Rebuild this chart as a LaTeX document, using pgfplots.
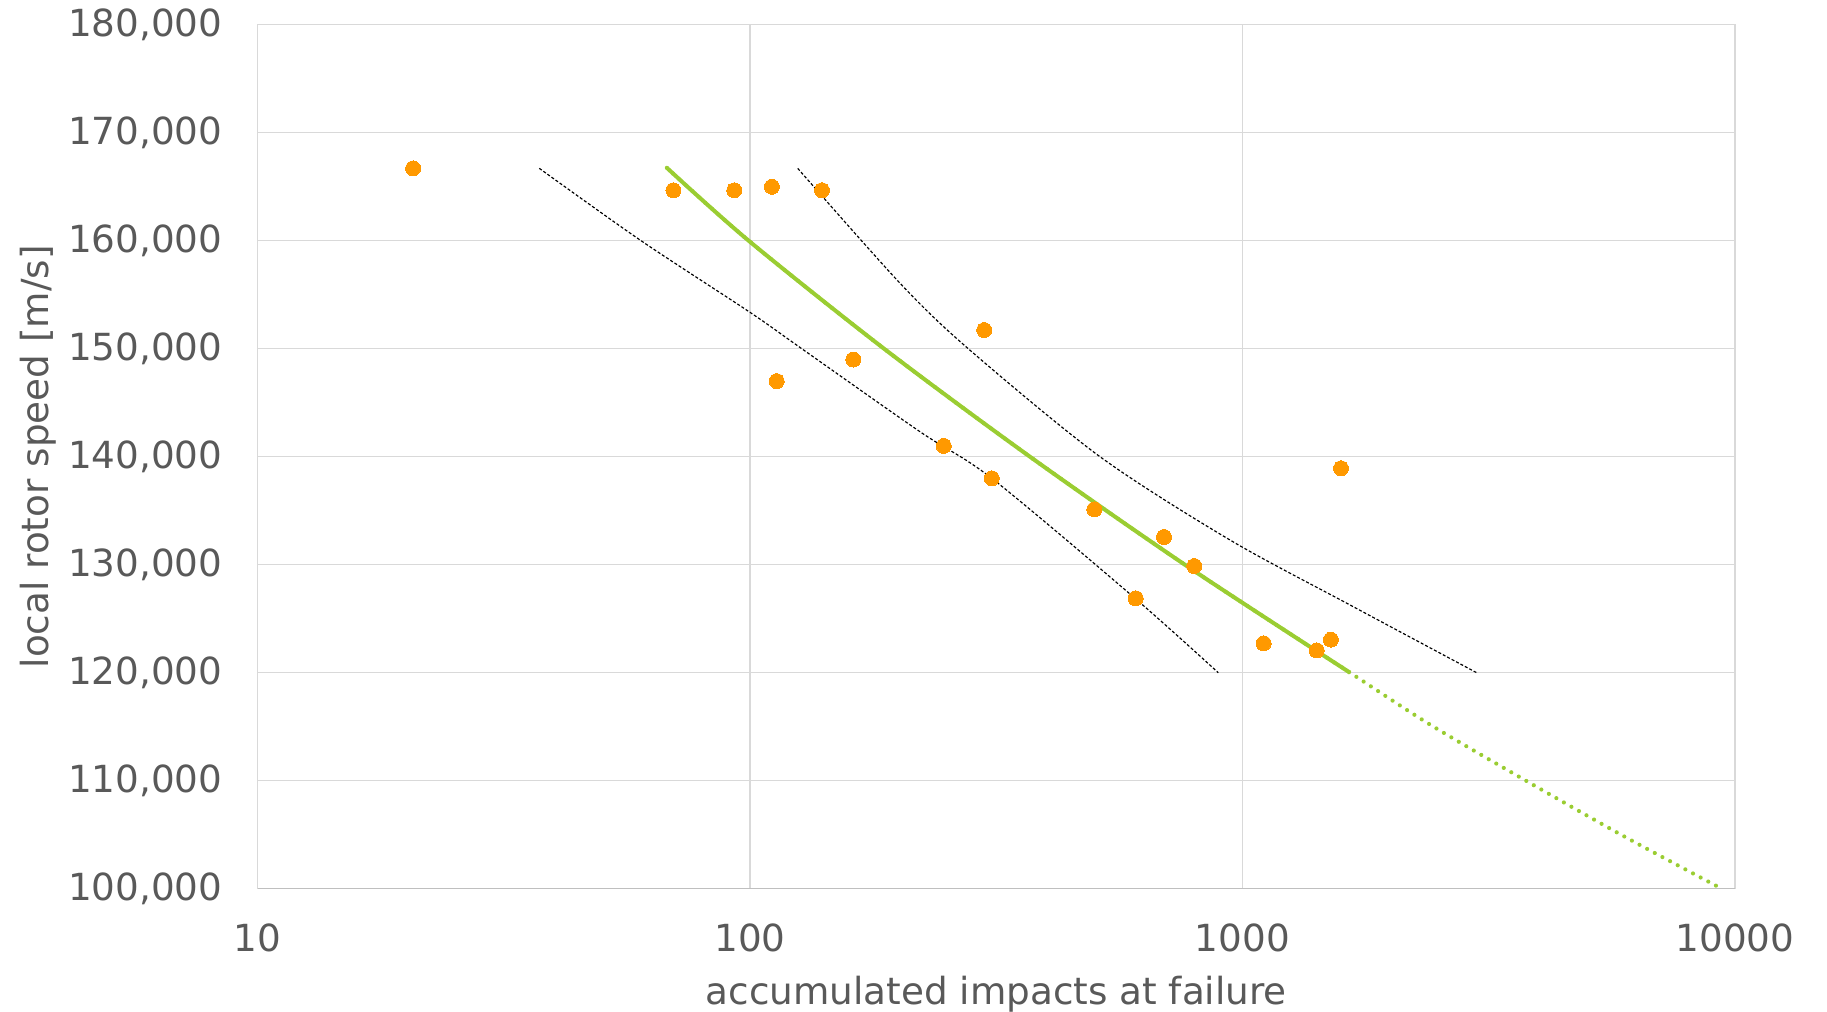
\documentclass[border=0pt]{standalone}
\usepackage{pgfplots}
\pgfplotsset{compat=1.18}
\usepackage{fontspec}
\setmainfont{DejaVu Sans}
\definecolor{txt}{HTML}{595959}
\definecolor{gridc}{HTML}{D9D9D9}
\definecolor{axc}{HTML}{BFBFBF}
\definecolor{dotc}{HTML}{FF9900}
\definecolor{fitc}{HTML}{9ACD32}
\begin{document}
\begin{tikzpicture}
\begin{axis}[
  at={(0,0)}, anchor=south west,
  scale only axis, width=443.25pt, height=259.2pt,
  xmode=log, xmin=10, xmax=10000, ymin=100000, ymax=180000,
  xtick={10,100,1000,10000}, xticklabels={10,100,1000,10000},
  minor xtick={},
  ytick={100000,110000,120000,130000,140000,150000,160000,170000,180000},
  yticklabels={{100,000},{110,000},{120,000},{130,000},{140,000},{150,000},{160,000},{170,000},{180,000}},
  scaled y ticks=false,
  major tick length=0pt, minor tick length=0pt,
  tick style={draw=none},
  grid=major, major grid style={gridc, line width=0.35pt},
  axis line style={gridc, line width=0.35pt},
  tick label style={text=txt, font=\fontsize{11.2}{13.4}\selectfont},
  xticklabel style={yshift=-6.9pt},
  yticklabel style={xshift=-7pt},
  xlabel={accumulated impacts at failure},
  ylabel={local rotor speed [m/s]},
  every axis x label/.style={at={(axis description cs:0.5,0)}, anchor=base, yshift=-34.6pt, text=txt, font=\fontsize{11.2}{13.4}\selectfont},
  every axis y label/.style={at={(axis description cs:0,0.5)}, xshift=-62.8pt, rotate=90, anchor=base, text=txt, font=\fontsize{11.2}{13.4}\selectfont},
]
\draw[axc, line width=0.6pt] (rel axis cs:0,0) -- (rel axis cs:1,0);
% measured points
\addplot[only marks, mark=*, mark size=2.25pt, mark options={fill=dotc, draw=dotc, line width=0pt}] coordinates {
 (20.7,166700) (69.9,164670) (92.9,164670) (110.8,165000) (140.0,164670)
 (113.3,147000) (162.1,149000) (299,151730) (247.4,141000) (309.7,138000)
 (500.2,135130) (692.8,132570) (798.2,129880) (607,126890) (1104,122720)
 (1415,122070) (1512,123060) (1585,138930)
};
% lower bound
\addplot[black, line width=0.35pt, dash pattern=on 0.9pt off 0.6pt, smooth] coordinates {
 (37.35,166700) (60.1,160000) (100,153370) (127.4,150000) (221.4,142315) (309.7,138000) (605,126890) (893,120000)
};
% upper bound
\addplot[black, line width=0.35pt, dash pattern=on 0.9pt off 0.6pt, smooth] coordinates {
 (125,166700) (201.7,156060) (277.5,150000) (513.7,140000) (943.2,132290) (1654,126270) (2989,120000)
};
% fit solid
\addplot[fitc, line width=1.2pt, smooth] coordinates {
 (67.8,166750) (99.4,160000) (187.2,150000) (370.3,140000) (764,130000) (1654,120000)
};
% fit dotted extrapolation
\addplot[fitc, line width=1.25pt, line cap=round, dash pattern=on 0pt off 2.6pt, smooth] coordinates {
 (67.8,166750) (99.4,160000) (187.2,150000) (370.3,140000) (764,130000) (1654,120000)
 (2403,115200) (3764,110000) (5925,104900) (9400,100000)
};
\end{axis}
\pgfresetboundingbox
\path[use as bounding box] (-77.25pt,-36.69pt) rectangle (470.85pt,266.61pt);
\end{tikzpicture}
\end{document}
